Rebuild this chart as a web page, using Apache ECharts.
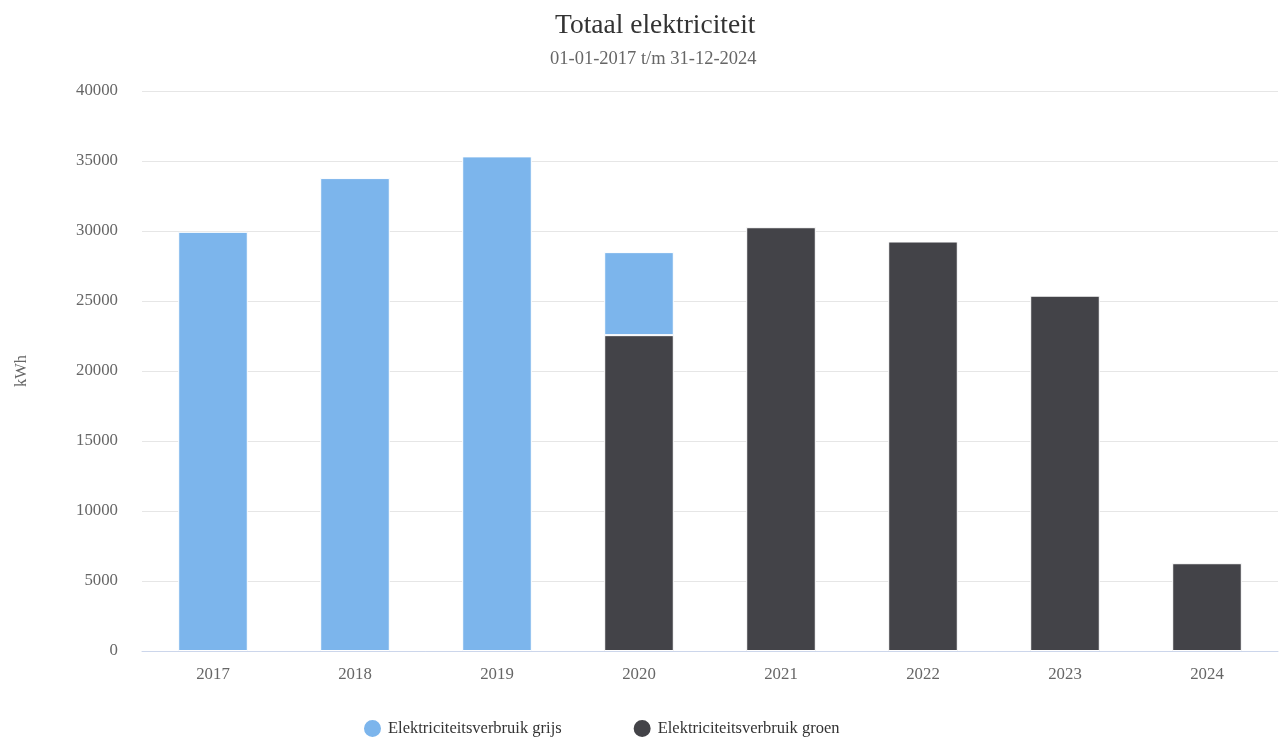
<!DOCTYPE html>
<html>
<head>
<meta charset="utf-8">
<script src="https://cdn.jsdelivr.net/npm/echarts@6/dist/echarts.min.js"></script>
<style>
html,body{margin:0;padding:0;background:#fff;}
#chart{width:1279px;height:740px;}
</style>
</head>
<body>
<div id="chart"></div>
<script>
const categories = ['2017','2018','2019','2020','2021','2022','2023','2024'];
const grijs = [29940, 33780, 35330, 5930, null, null, null, null];
const groen = [null, null, null, 22560, 30270, 29250, 25380, 6270];
const yTicks = [0, 5000, 10000, 15000, 20000, 25000, 30000, 35000, 40000];

const FONT = '"Liberation Serif", "Times New Roman", serif';
const chart = echarts.init(document.getElementById('chart'));
chart.setOption({
  animation: false,
  backgroundColor: '#ffffff',
  title: [
    {
      text: 'Totaal elektriciteit',
      left: 550,
      top: 7,
      textStyle: { fontFamily: FONT, fontSize: 27.5, fontWeight: 'normal', color: '#333333' }
    },
    {
      text: '01-01-2017 t/m 31-12-2024',
      left: 545,
      top: 45,
      textStyle: { fontFamily: FONT, fontSize: 18.5, fontWeight: 'normal', color: '#666666' }
    }
  ],
  legend: {
    data: ['Elektriciteitsverbruik grijs', 'Elektriciteitsverbruik groen'],
    left: 357,
    top: 713,
    icon: 'circle',
    itemWidth: 21,
    itemHeight: 19,
    itemGap: 70,
    textStyle: { fontFamily: FONT, fontSize: 16.5, color: '#333333' }
  },
  grid: { left: 142, right: 1, top: 91, bottom: 89, containLabel: false },
  xAxis: {
    type: 'category',
    data: categories,
    axisLine: { show: true, lineStyle: { color: '#ccd6eb', width: 1 } },
    axisTick: { show: false },
    axisLabel: { fontFamily: FONT, fontSize: 16.8, color: '#666666', margin: 15 }
  },
  yAxis: {
    type: 'value',
    min: yTicks[0],
    max: yTicks[yTicks.length - 1],
    interval: yTicks[1] - yTicks[0],
    name: 'kWh',
    nameLocation: 'middle',
    nameGap: 112,
    nameTextStyle: { fontFamily: FONT, fontSize: 16.5, color: '#666666' },
    axisLine: { show: false },
    axisTick: { show: false },
    axisLabel: { fontFamily: FONT, fontSize: 16.8, color: '#666666', margin: 24, formatter: v => String(v) },
    splitLine: { lineStyle: { color: '#e6e6e6', width: 1 } }
  },
  series: [
    {
      name: 'Elektriciteitsverbruik groen',
      type: 'bar',
      stack: 'total',
      data: groen,
      barWidth: '49%',
      itemStyle: { color: '#434348', borderColor: '#ffffff', borderWidth: 1 }
    },
    {
      name: 'Elektriciteitsverbruik grijs',
      type: 'bar',
      stack: 'total',
      data: grijs,
      barWidth: '49%',
      itemStyle: { color: '#7cb5ec', borderColor: '#ffffff', borderWidth: 1 }
    }
  ]
});
</script>
</body>
</html>
